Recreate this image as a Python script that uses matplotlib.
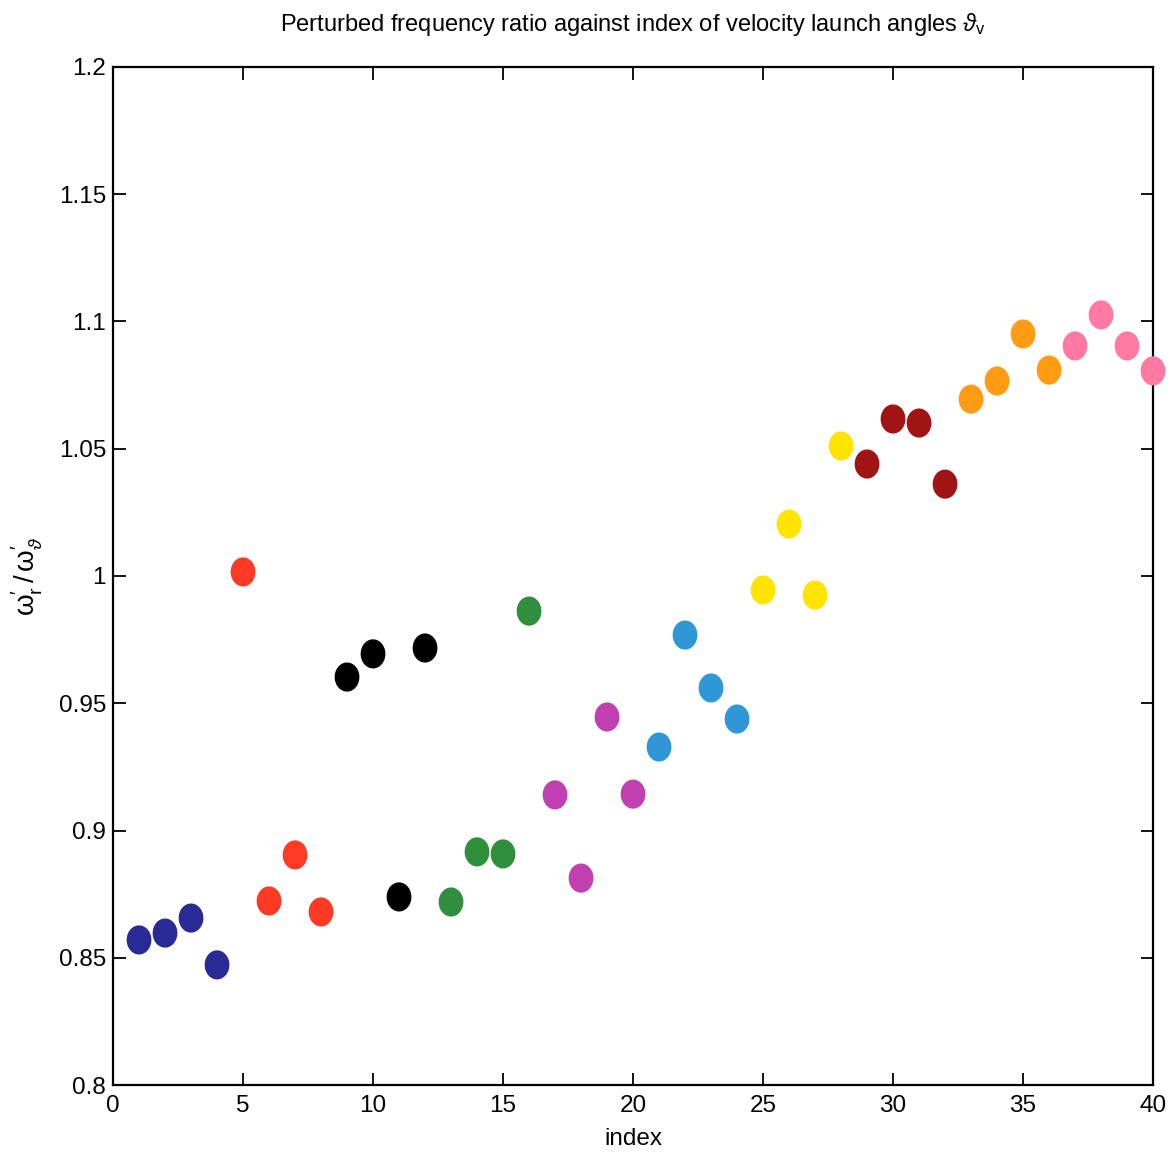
import matplotlib
matplotlib.use('Agg')
import matplotlib.pyplot as plt
import numpy as np
from matplotlib.path import Path

plt.rcParams['font.family'] = ['Liberation Sans', 'DejaVu Sans']
plt.rcParams['mathtext.fontset'] = 'custom'
plt.rcParams['mathtext.rm'] = 'Liberation Sans'
plt.rcParams['mathtext.it'] = 'Liberation Sans:italic'

# frequency ratio for each launch-angle index, grouped in fours
index = np.arange(1, 41)
ratio = [0.857, 0.8597, 0.8656, 0.8472,
         1.0016, 0.8723, 0.8904, 0.868,
         0.9603, 0.9694, 0.8739, 0.9717,
         0.8719, 0.8916, 0.8908, 0.9862,
         0.914, 0.8813, 0.9446, 0.9143,
         0.9328, 0.9768, 0.956, 0.9438,
         0.9945, 1.0204, 0.9925, 1.0511,
         1.044, 1.0617, 1.0601, 1.0361,
         1.0695, 1.0766, 1.0951, 1.0809,
         1.0904, 1.1026, 1.0904, 1.0806]

group_colors = ['#2a2a96', '#ff3a24', '#000000', '#2f8f3c', '#c23fb2',
                '#2f97d6', '#ffe400', '#a01414', '#ff9c14', '#ff7aa2']
colors = [group_colors[(i - 1) // 4] for i in index]

# slightly tall ellipse marker
t = np.linspace(0, 2 * np.pi, 60)
ellipse = Path(np.column_stack([0.85 * np.cos(t), np.sin(t)]))

fig = plt.figure(figsize=(11.7, 11.55), dpi=100)
ax = fig.add_axes([0.0966, 0.0606, 0.8889, 0.8814])

ax.scatter(index, ratio, c=colors, marker=ellipse, s=440, edgecolors='none',
           clip_on=False, zorder=3)

ax.set_xlim(0, 40)
ax.set_ylim(0.8, 1.2)
ax.set_xticks(np.arange(0, 41, 5))
ax.set_yticks([0.8, 0.85, 0.9, 0.95, 1.0, 1.05, 1.1, 1.15, 1.2])
ax.set_yticklabels(['0.8', '0.85', '0.9', '0.95', '1', '1.05', '1.1', '1.15', '1.2'])
ax.tick_params(direction='in', length=9, width=1.3, top=True, right=True,
               labelsize=17.5, pad=5)
ax.tick_params(axis='x', pad=7)
for sp in ax.spines.values():
    sp.set_linewidth(1.6)

ax.set_xlabel('index', fontsize=17.5, labelpad=8)
ax.set_ylabel(r"$\mathrm{\omega}_\mathrm{r}' \,/\, \mathrm{\omega}_\vartheta'$",
              fontsize=20, labelpad=10)
ax.set_title(r"Perturbed frequency ratio against index of velocity launch angles $\vartheta_\mathrm{v}$",
             fontsize=17, pad=26)

fig.savefig('out.png', dpi=100, facecolor='white')
